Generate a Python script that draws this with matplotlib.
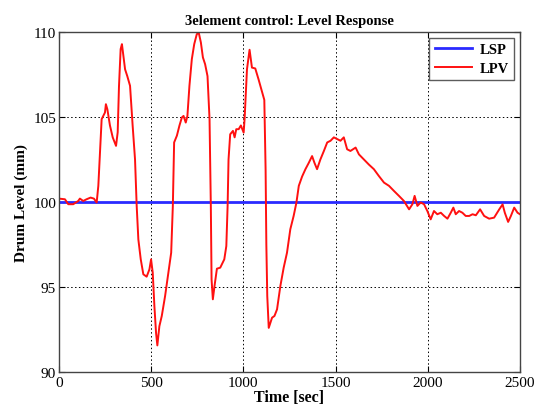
import matplotlib
matplotlib.use("Agg")
import matplotlib.pyplot as plt
import numpy as np

# set point (constant level)
lsp_time = [0, 2500]
lsp_level = [100, 100]

lpv_time = [
    0, 33, 51, 78, 105, 114, 132, 150, 172, 190, 205, 214, 223, 232, 241, 250,
    255, 263, 277, 292, 310, 319, 326, 335, 342, 350, 359, 371, 386, 400, 413,
    422, 431, 444, 458, 476, 491, 500, 509, 518, 527, 534, 545, 558, 576, 594,
    609, 618, 625, 640, 654, 667, 676, 688, 697, 708, 721, 734, 748, 759, 770,
    781, 793, 806, 817, 824, 828, 835, 844, 857, 875, 897, 908, 915, 920, 929,
    944, 953, 962, 975, 987, 1002, 1007, 1020, 1034, 1047, 1065, 1083, 1101,
    1114, 1121, 1125, 1130, 1138, 1156, 1169, 1183, 1201, 1219, 1237, 1255,
    1273, 1288, 1301, 1319, 1337, 1355, 1373, 1386, 1400, 1418, 1437, 1455,
    1473, 1491, 1509, 1527, 1545, 1563, 1581, 1609, 1627, 1654, 1681, 1708,
    1735, 1763, 1790, 1817, 1844, 1871, 1899, 1917, 1929, 1944, 1962, 1980,
    1998, 2016, 2034, 2052, 2071, 2089, 2107, 2125, 2139, 2152, 2170, 2188,
    2206, 2225, 2243, 2261, 2284, 2306, 2333, 2360, 2388, 2406, 2418, 2436,
    2451, 2469, 2487, 2500,
]
lpv_level = [
    100.2, 100.16, 99.87, 99.87, 100.06, 100.2, 100.06, 100.16, 100.26, 100.2,
    99.97, 100.95, 102.9, 104.87, 105.06, 105.26, 105.75, 105.45, 104.5, 103.8,
    103.3, 104.1, 106.8, 108.99, 109.28, 108.6, 107.8, 107.4, 106.83, 104.5,
    102.5, 99.77, 97.8, 96.63, 95.75, 95.61, 96.04, 96.63, 95.85, 93.88, 92.3,
    91.57, 92.7, 93.3, 94.47, 95.85, 97.02, 99.77, 103.5, 103.9, 104.5, 104.97,
    105.06, 104.67, 105.06, 106.83, 108.4, 109.28, 109.87, 109.93, 109.38,
    108.5, 108.1, 107.4, 104.87, 99.77, 95.45, 94.28, 95.06, 96.08, 96.14,
    96.63, 97.41, 99.77, 102.5, 103.98, 104.18, 103.8, 104.28, 104.28, 104.5,
    104.08, 104.87, 107.8, 108.95, 107.9, 107.85, 107.2, 106.5, 106.0, 101.9,
    97.5, 94.47, 92.6, 93.2, 93.3, 93.69, 95.06, 96.14, 97.02, 98.4, 99.18,
    99.96, 100.95, 101.5, 101.93, 102.3, 102.7, 102.3, 101.93, 102.5, 103.0,
    103.5, 103.6, 103.8, 103.7, 103.6, 103.8, 103.1, 103.0, 103.2, 102.8,
    102.5, 102.2, 101.93, 101.53, 101.14, 100.95, 100.65, 100.36, 100.06,
    99.57, 99.87, 100.36, 99.77, 99.97, 99.87, 99.47, 98.98, 99.47, 99.28,
    99.37, 99.18, 99.02, 99.37, 99.67, 99.28, 99.47, 99.37, 99.18, 99.18,
    99.28, 99.22, 99.57, 99.18, 99.02, 99.08, 99.57, 99.86, 99.37, 98.83,
    99.18, 99.67, 99.37, 99.28,
]

x_ticks = [0, 500, 1000, 1500, 2000, 2500]
y_ticks = [90, 95, 100, 105, 110]

plt.rcParams["font.family"] = ["Liberation Serif", "DejaVu Serif"]
plt.rcParams["font.size"] = 11

fig = plt.figure(figsize=(5.45, 4.06), dpi=100)
ax = fig.add_axes([0.108, 0.081, 0.846, 0.838])

ax.plot(lsp_time, lsp_level, color="#2a2aff", lw=2.0, label="LSP")
ax.plot(lpv_time, lpv_level, color="#ff1010", lw=1.4, label="LPV")

ax.set_xlim(0, 2500)
ax.set_ylim(90, 110)
ax.set_xticks(x_ticks)
ax.set_yticks(y_ticks)
ax.grid(True, color="black", linestyle=(0, (1.5, 2.5)), lw=0.7)
ax.tick_params(direction="in", top=True, right=True, length=4)
ax.tick_params(axis="x", pad=3)
ax.tick_params(axis="y", pad=2)
for s in ax.spines.values():
    s.set_color("#444444")
    s.set_linewidth(1.0)

ax.set_title("3element control: Level Response", fontweight="bold", fontsize=10.5, pad=6)
ax.set_xlabel("Time [sec]", fontweight="bold", fontsize=11.5, labelpad=0)
ax.set_ylabel("Drum Level (mm)", fontweight="bold", fontsize=11, labelpad=4)

leg = ax.legend(loc="upper right", fancybox=False, edgecolor="#333333",
                prop={"weight": "bold", "size": 10.5}, handlelength=2.6,
                borderaxespad=0.4, labelspacing=0.4, borderpad=0.35,
                handletextpad=0.5)
leg.get_frame().set_linewidth(1.0)

fig.savefig("out.png", dpi=100)
